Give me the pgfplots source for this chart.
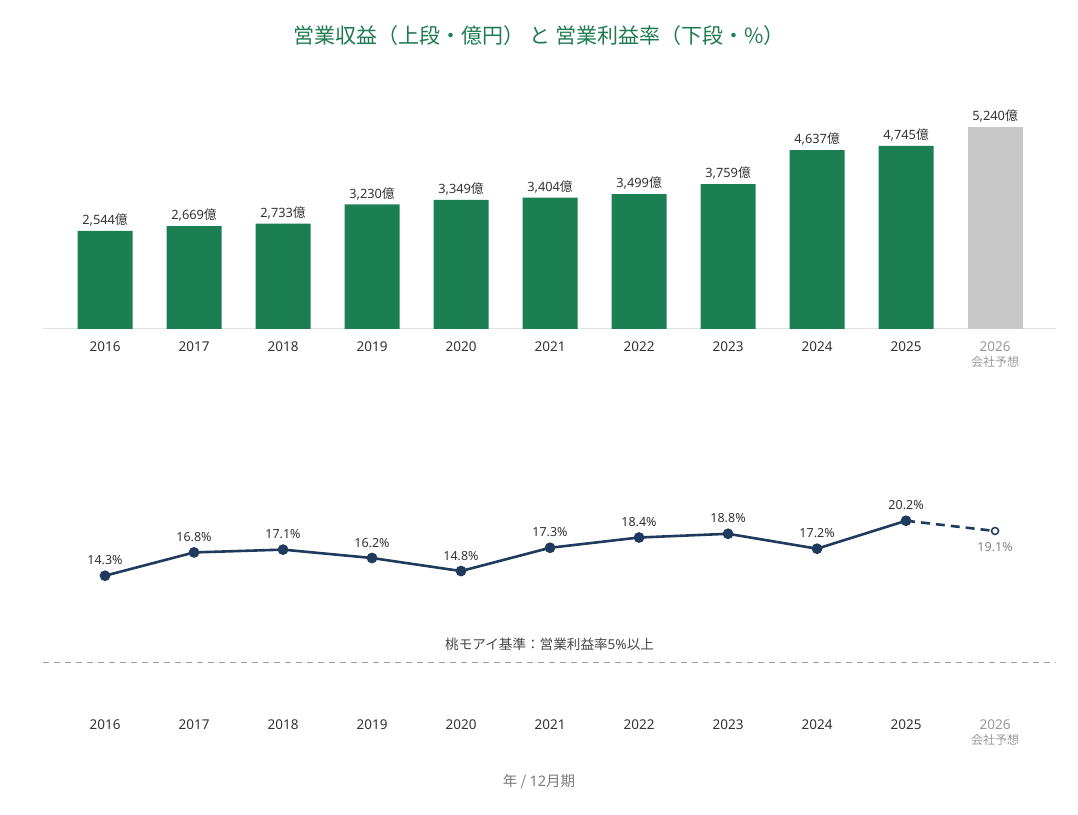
\documentclass[border=0pt]{standalone}
\usepackage{fontspec}
\setmainfont{Noto Sans CJK JP}
\newfontfamily\cjk{Noto Sans CJK JP}
\newfontfamily\lat{Noto Sans}
\usepackage{pgfplots}
\pgfplotsset{compat=1.18}
\definecolor{bargreen}{HTML}{1B7F53}
\definecolor{titlegreen}{HTML}{1E7A50}
\definecolor{navy}{HTML}{1F3A5C}
\definecolor{fcgray}{HTML}{C8C8C8}
\definecolor{txt}{HTML}{333333}
\definecolor{ltxt}{HTML}{999999}
\definecolor{axgray}{HTML}{E2E2E2}
\definecolor{refgray}{HTML}{9A9A9A}
\begin{document}
\begin{tikzpicture}
\useasboundingbox (0,0) rectangle (1078pt,814pt);
\pgfplotsset{
  common/.style={
    scale only axis,
    anchor=south west,
    width=1013pt,
    xmin=-0.697, xmax=10.685,
    xtick={0,...,10},
    xticklabels={2016,2017,2018,2019,2020,2021,2022,2023,2024,2025,{\textcolor{ltxt}{2026}\\[0pt]\textcolor{ltxt}{\cjk\fontsize{12}{14}\selectfont 会社予想}}},
    xticklabel style={font=\lat\fontsize{13.5}{15}\selectfont, text=txt, align=center, anchor=north},
    major tick length=0pt,
    axis y line=none,
    ytick=\empty,
    /pgf/number format/assume math mode=true,
    clip=false,
  }
}
% top: bars
\begin{axis}[common,
  at={(43pt,485pt)},
  height=270pt,
  ymin=0, ymax=7000,
  axis x line*=bottom,
  x axis line style={draw=axgray, line width=1pt, -},
  xticklabel style={yshift=-9pt},
  bar width=55pt,
  nodes near coords={{\lat\pgfmathprintnumber[1000 sep={,}]{\pgfplotspointmeta}}億},
  nodes near coords style={font=\fontsize{12.8}{14}\selectfont, text=txt, anchor=south, yshift=1pt},
]
\addplot[ybar, fill=bargreen, draw=none] coordinates {
(0,2544) (1,2669) (2,2733) (3,3230) (4,3349) (5,3404) (6,3499) (7,3759) (8,4637) (9,4745)};
\addplot[ybar, fill=fcgray, draw=none] coordinates {(10,5240)};
\end{axis}
% bottom: line
\begin{axis}[common,
  at={(43pt,105pt)},
  height=233pt,
  ymin=0, ymax=25,
  axis x line*=bottom,
  x axis line style={draw=none},
  xticklabel style={yshift=-7pt},
]
\addplot[refgray, line width=1.5pt, dash pattern=on 6pt off 5pt, forget plot] coordinates {(-0.697,5) (10.685,5)};
\node[font=\fontsize{13.6}{15}\selectfont, text=txt!90, anchor=south] at (axis cs:4.995,5) [yshift=8pt] {桃モアイ基準：営業利益率{\lat 5\%}以上};
\addplot[navy, line width=2.6pt, dash pattern=on 9pt off 6pt] coordinates {(9,20.2) (10,19.1)};
\addplot[navy, line width=1.5pt, only marks, mark=*, mark size=3.5pt, mark options={fill=white},
  nodes near coords={\pgfmathprintnumber[fixed,fixed zerofill,precision=1]{\pgfplotspointmeta}\%},
  nodes near coords style={font=\lat\fontsize{12.5}{15}\selectfont, text=ltxt!85!black, anchor=north, yshift=-7pt}]
  coordinates {(10,19.1)};
\addplot[navy, line width=2.6pt, mark=*, mark size=4pt, mark options={solid, fill=navy},
  nodes near coords={\pgfmathprintnumber[fixed,fixed zerofill,precision=1]{\pgfplotspointmeta}\%},
  nodes near coords style={font=\lat\fontsize{12.5}{15}\selectfont, text=txt, anchor=south, yshift=6pt}]
  coordinates {(0,14.3) (1,16.8) (2,17.1) (3,16.2) (4,14.8) (5,17.3) (6,18.4) (7,18.8) (8,17.2) (9,20.2)};
\end{axis}
\node[font=\fontsize{21}{24}\selectfont, text=titlegreen] at (539pt,778pt) {営業収益（上段・億円） と 営業利益率（下段・\%）};
\node[font=\fontsize{14.5}{16}\selectfont, text=ltxt!80!black] at (539pt,32pt) {年 / {\lat 12}月期};
\end{tikzpicture}
\end{document}
